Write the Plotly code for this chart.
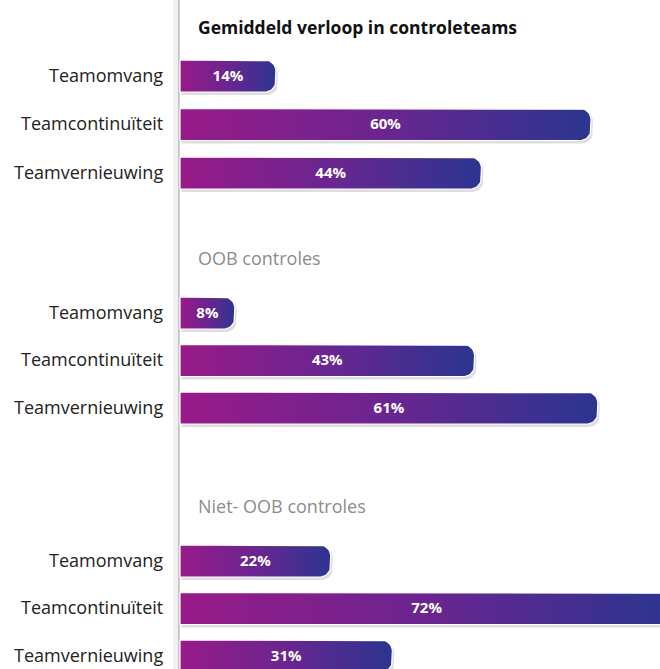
import plotly.graph_objects as go
import numpy as np

# ---- data ----
group_titles = ["Gemiddeld verloop in controleteams", "OOB controles", "Niet- OOB controles"]
categories = ["Teamomvang", "Teamcontinuïteit", "Teamvernieuwing"]
values_avg = [14, 60, 44]
values_oob = [8, 43, 61]
values_niet = [22, 72, 31]
group_values = [values_avg, values_oob, values_niet]

# ---- layout constants (pixels) ----
W, H = 660, 669
X0_PX = 180          # pixel of 0%
PX_PER_UNIT = 6.85   # pixels per percent
group_start = [76, 313, 561]   # pixel y of first bar centre per group
row_gaps = [48.5, 47.5, 47.5]
title_offset = 50
half_h = 16
corner = 11

x_min = -X0_PX / PX_PER_UNIT
x_max = (W - X0_PX) / PX_PER_UNIT


def bar_path(v, yc, dx_px=0.0, dy_px=0.0, grow=0.0):
    rx = corner / PX_PER_UNIT
    ry = corner
    xe = v + (dx_px + grow) / PX_PER_UNIT
    xs = 0 + dx_px / PX_PER_UNIT
    top = yc - half_h - grow + dy_px
    bot = yc + half_h + grow + dy_px
    xs_ = [xs, xe - rx]
    ys_ = [top, top]
    t = np.linspace(-np.pi / 2, 0, 10)
    xs_ += list(xe - rx + rx * np.cos(t))
    ys_ += list(top + ry + ry * np.sin(t))
    t = np.linspace(0, np.pi / 2, 10)
    xs_ += list(xe - rx + rx * np.cos(t))
    ys_ += list(bot - ry + ry * np.sin(t))
    xs_ += [xe - rx, xs, xs]
    ys_ += [bot, bot, top]
    return xs_, ys_


fig = go.Figure()
annotations = []

for g, (title, vals) in enumerate(zip(group_titles, group_values)):
    for r, (cat, v) in enumerate(zip(categories, vals)):
        yc = group_start[g] + r * row_gaps[g]
        # shadow
        sx, sy = bar_path(v, yc, dx_px=1.5, dy_px=2.5, grow=0.5)
        fig.add_trace(go.Scatter(x=sx, y=sy, fill="toself", mode="lines",
                                 line=dict(width=0), fillcolor="rgba(0,0,0,0.13)",
                                 hoverinfo="skip", showlegend=False))
        # bar
        bx, by = bar_path(v, yc)
        fig.add_trace(go.Scatter(
            x=bx, y=by, fill="toself", mode="lines",
            line=dict(width=1.2, color="white"),
            fillgradient=dict(type="horizontal",
                              colorscale=[[0, "#981a88"], [0.5, "#6a2590"], [1, "#2b3590"]]),
            hoverinfo="skip", showlegend=False))
        # value label
        fig.add_trace(go.Scatter(
            x=[v / 2], y=[yc + 1], mode="text", text=[f"{v}%"],
            textfont=dict(family="Open Sans", size=15, color="white", weight="bold"),
            hoverinfo="skip", showlegend=False))
        # category label
        annotations.append(dict(
            x=-15 / PX_PER_UNIT, y=yc - 1.5, xref="x", yref="y", text=cat,
            showarrow=False, xanchor="right", yanchor="middle",
            font=dict(family="Open Sans", size=18, color="#222222")))
    # group title
    is_main = g == 0
    annotations.append(dict(
        x=16 / PX_PER_UNIT, y=group_start[g] - title_offset + (1 if is_main else -5),
        xref="x", yref="y", text=(f"<b>{title}</b>" if is_main else title),
        showarrow=False, xanchor="left", yanchor="middle",
        font=dict(family="Open Sans", size=17.5 if is_main else 18,
                  color="#111111" if is_main else "#8c8c8c")))

# vertical axis line with soft shadow
shapes = [
    dict(type="line", xref="x", yref="paper", x0=-4 / PX_PER_UNIT, x1=-4 / PX_PER_UNIT,
         y0=0, y1=1, line=dict(color="rgba(0,0,0,0.06)", width=6), layer="below"),
    dict(type="line", xref="x", yref="paper", x0=-1 / PX_PER_UNIT, x1=-1 / PX_PER_UNIT,
         y0=0, y1=1, line=dict(color="rgba(0,0,0,0.18)", width=2), layer="below"),
]

fig.update_layout(
    width=W, height=H,
    margin=dict(l=0, r=0, t=0, b=0),
    paper_bgcolor="white", plot_bgcolor="white",
    xaxis=dict(range=[x_min, x_max], visible=False, fixedrange=True),
    yaxis=dict(range=[H, 0], visible=False, fixedrange=True),
    annotations=annotations,
    shapes=shapes,
    showlegend=False,
)

fig.write_html("out.html")
